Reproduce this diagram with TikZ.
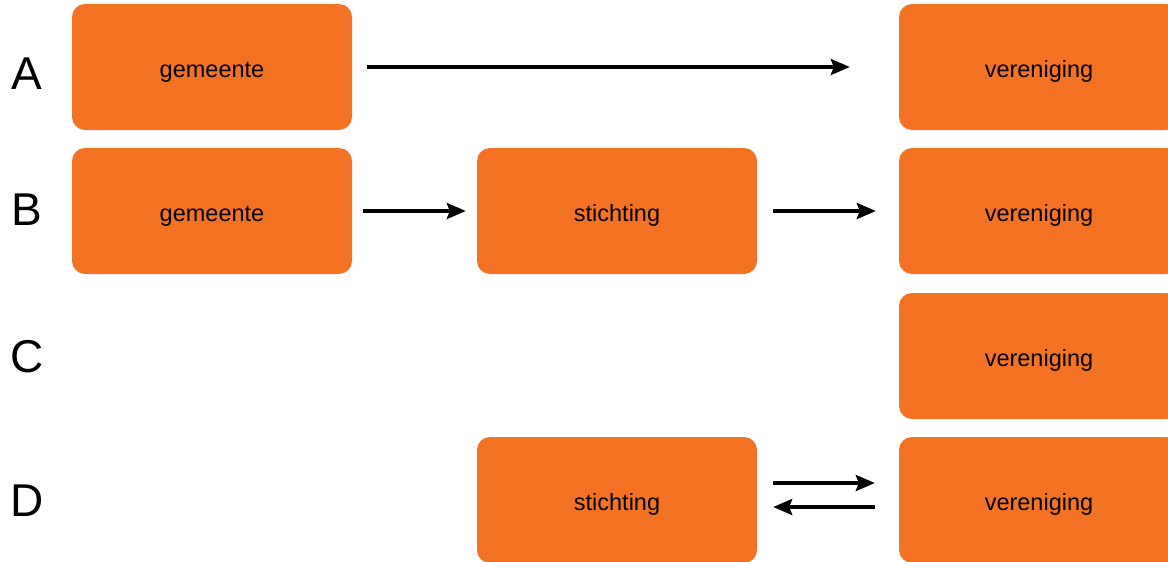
\documentclass[tikz,border=0pt]{standalone}
\usepackage{fontspec}
\setmainfont{Liberation Sans}
\usepackage{tikz}
\usetikzlibrary{calc}
\usetikzlibrary{arrows.meta}
\usetikzlibrary{positioning}
\definecolor{tangerine}{RGB}{243, 114, 36}

\tikzset{
  orgbox/.style={rectangle, rounded corners=13pt, fill=tangerine, inner sep=0pt,
                 minimum width=280pt, minimum height=126pt,
                 text height=24pt, text depth=4pt,
                 font=\fontsize{23.5}{24}\selectfont},
  rowlabel/.style={inner sep=0pt, font=\fontsize{46}{46}\selectfont},
  flow/.style={line width=3.2pt, -{Stealth[length=19pt, width=16pt, inset=3pt]}}
}

\begin{document}
\begin{tikzpicture}[x=1pt, y=-1pt]
            \useasboundingbox (0,0) rectangle (1168,562);
            \clip (0,0) rectangle (1168,562);
            % row labels
            \node[rowlabel] (labA) at ( 27,  74) {A};
            \node[rowlabel] (labB) at ( 27, 210) {B};
            \node[rowlabel] (labC) at ( 27, 357) {C};
            \node[rowlabel] (labD) at ( 27, 501) {D};
            % boxes
            \node[orgbox] (gemA) at ( 212,  67) {gemeente};
            \node[orgbox] (verA) at (1039,  67) {vereniging};
            \node[orgbox] (gemB) at ( 212, 211) {gemeente};
            \node[orgbox] (stiB) at ( 617, 211) {stichting};
            \node[orgbox] (verB) at (1039, 211) {vereniging};
            \node[orgbox] (verC) at (1039, 356) {vereniging};
            \node[orgbox] (stiD) at ( 617, 500) {stichting};
            \node[orgbox] (verD) at (1039, 500) {vereniging};
            % arrows
            \draw[flow, shorten <=15pt, shorten >=49pt] (gemA.east) -- (verA.west);
            \draw[flow, shorten <=11pt, shorten >=11pt] (gemB.east) -- (stiB.west);
            \draw[flow, shorten <=16pt, shorten >=23pt] (stiB.east) -- (verB.west);
            \draw[flow, shorten <=16pt, shorten >=24pt] ([yshift=17pt]stiD.east) -- ([yshift=17pt]verD.west);
            \draw[flow, shorten <=24pt, shorten >=16pt] ([yshift=-7pt]verD.west) -- ([yshift=-7pt]stiD.east);
        \end{tikzpicture}
\end{document}
